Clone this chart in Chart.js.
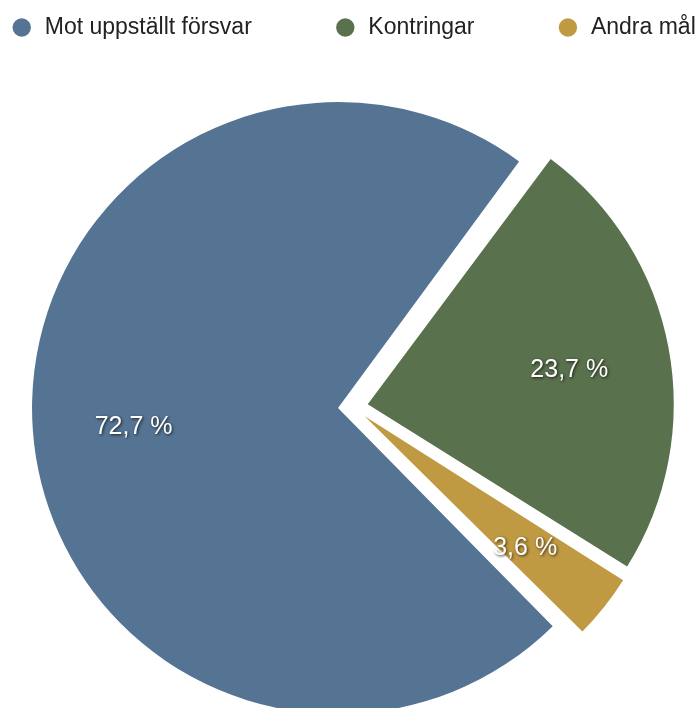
<!DOCTYPE html>
<html>
<head>
<meta charset="utf-8">
<script src="https://cdn.jsdelivr.net/npm/chart.js@4/dist/chart.umd.min.js"></script>
<style>
  html, body { margin: 0; padding: 0; background: #fff; overflow: hidden; width: 696px; height: 708px; }
  #wrap { position: absolute; left: -147px; top: -66px; width: 1000px; height: 831px; }
</style>
</head>
<body>
<div id="wrap"><canvas id="malChart" width="1000" height="831"></canvas></div>
<script>
const labels = ["Mot uppställt försvar", "Kontringar", "Andra mål"];
const shares = [72.7, 23.7, 3.6];
const colors = ['#557493', '#5a714d', '#c09a42'];

const EXPLODE = 60;   // arc offset (chart.js moves a slice by offset/4)
const fmt = v => v.toFixed(1).replace('.', ',') + ' %';

// chart.js also grows an exploded slice's radius by (offset/4)*fix;
// take that back so every slice keeps the same radius
const evenRadius = {
  id: 'evenRadius',
  beforeDatasetsDraw(chart) {
    const meta = chart.getDatasetMeta(0);
    const base = meta.controller.outerRadius;
    meta.data.forEach(arc => {
      const fix = 1 - Math.sin(Math.min(Math.PI, arc.circumference));
      arc.outerRadius = base - (arc.options.offset || 0) / 4 * fix;
    });
  }
};

// white percentage labels with a soft shadow, placed along each slice's bisector
const sliceLabels = {
  id: 'sliceLabels',
  afterDatasetsDraw(chart) {
    const ctx = chart.ctx;
    const meta = chart.getDatasetMeta(0);
    const base = meta.controller.outerRadius;
    ctx.save();
    ctx.font = '25px "Liberation Sans", Arial, sans-serif';
    ctx.fillStyle = '#fff';
    ctx.textAlign = 'center';
    ctx.textBaseline = 'middle';
    ctx.shadowColor = 'rgba(0,0,0,0.75)';
    ctx.shadowBlur = 3;
    ctx.shadowOffsetX = 1;
    ctx.shadowOffsetY = 1;
    meta.data.forEach((arc, i) => {
      const mid = (arc.startAngle + arc.endAngle) / 2;
      const d = (arc.options.offset || 0) / 4 + base * 0.67;
      ctx.fillText(fmt(shares[i]), arc.x + Math.cos(mid) * d, arc.y + Math.sin(mid) * d + 4);
    });
    ctx.restore();
  }
};

const malChart = new Chart(document.getElementById('malChart').getContext('2d'), {
  type: 'pie',
  data: {
    labels: labels,
    datasets: [{
      data: shares,
      backgroundColor: colors,
      borderWidth: 0,
      offset: EXPLODE
    }]
  },
  options: {
    responsive: false,
    animation: false,
    events: [],
    rotation: 135,
    radius: 306,
    plugins: {
      legend: {
        position: 'top',
        labels: {
          usePointStyle: true,
          pointStyle: 'circle',
          boxHeight: 13,
          padding: 82,
          color: '#222',
          font: { family: '"Liberation Sans", Arial, sans-serif', size: 23 }
        }
      },
      tooltip: { enabled: false }
    }
  },
  plugins: [evenRadius, sliceLabels]
});
</script>
</body>
</html>
